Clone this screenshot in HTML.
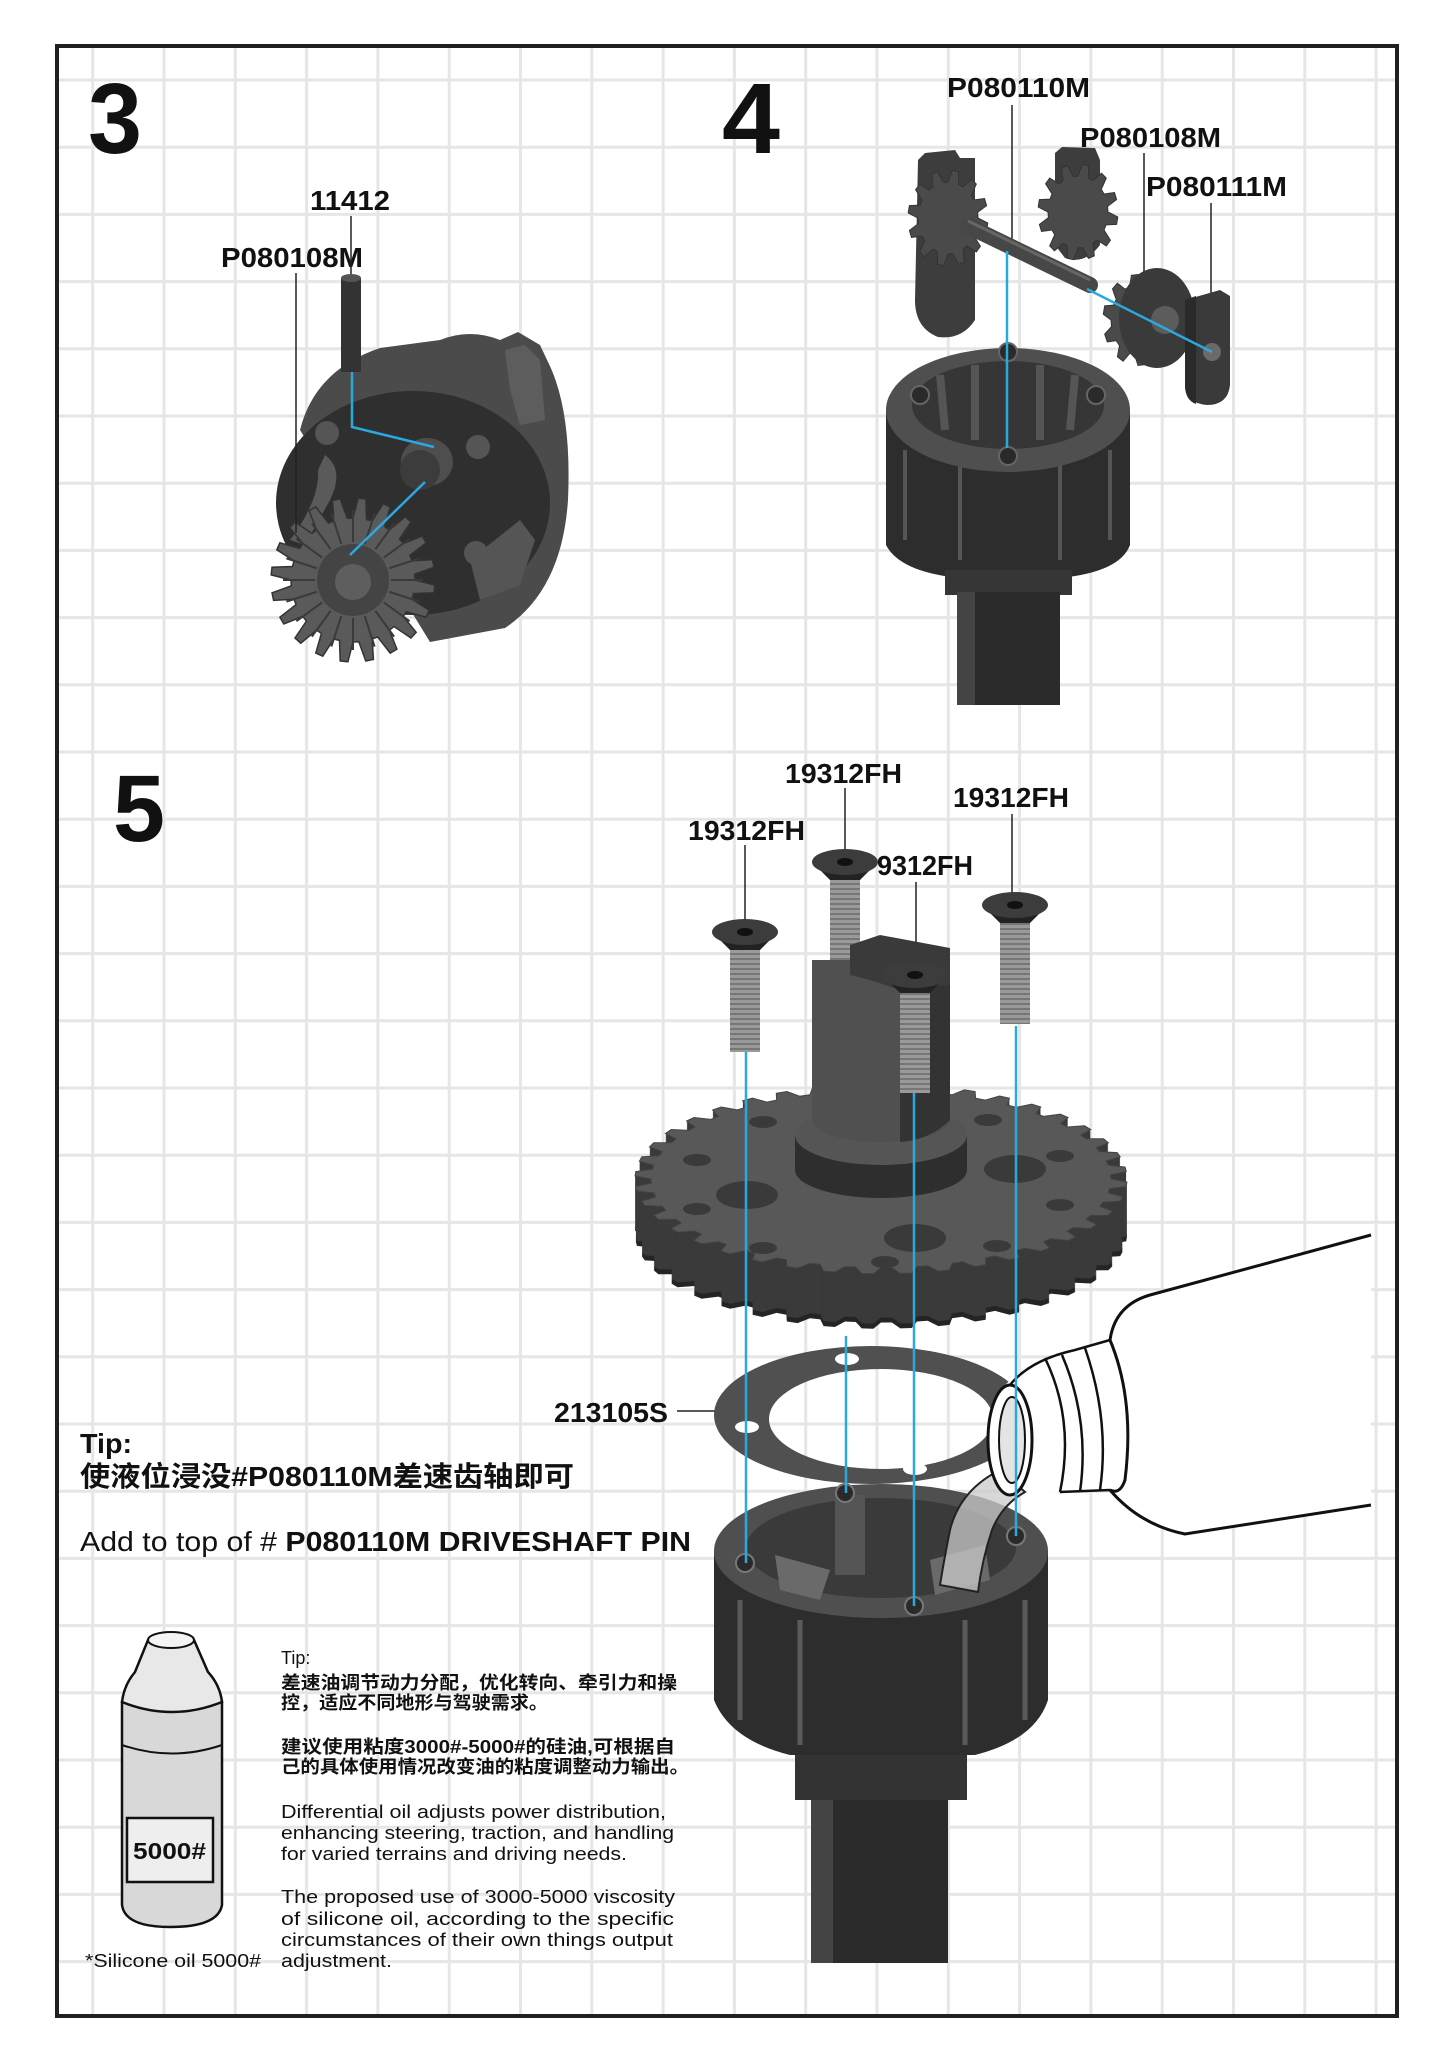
<!DOCTYPE html>
<html><head><meta charset="utf-8"><style>
html,body{margin:0;padding:0;background:#fff}
svg{display:block}
text{font-family:"Liberation Sans","Noto Sans CJK SC",sans-serif;fill:#111}
.lb{font-weight:bold;font-size:28px}
.p{font-size:18px}
.pc{font-size:18px;font-weight:bold}
</style></head><body>
<svg id="s" width="1455" height="2048" viewBox="0 0 1455 2048" xmlns="http://www.w3.org/2000/svg">
<defs>
<pattern id="thr" width="10" height="5" patternUnits="userSpaceOnUse"><rect width="10" height="5" fill="#9a9a9a"/><line x1="0" y1="4" x2="10" y2="4" stroke="#6a6a6a" stroke-width="1.5"/></pattern>
</defs>
<rect width="1455" height="2048" fill="#fff"/>
<path stroke="#e6e6e6" stroke-width="3" fill="none" d="M92.7 48V2014M164 48V2014M235.3 48V2014M306.6 48V2014M377.9 48V2014M449.2 48V2014M520.5 48V2014M591.8 48V2014M663.1 48V2014M734.4 48V2014M805.7 48V2014M877 48V2014M948.3 48V2014M1019.6 48V2014M1090.9 48V2014M1162.2 48V2014M1233.5 48V2014M1304.8 48V2014M1376.1 48V2014
M59 80H1395M59 147.2H1395M59 214.4H1395M59 281.6H1395M59 348.8H1395M59 416H1395M59 483.2H1395M59 550.4H1395M59 617.6H1395M59 684.8H1395M59 752H1395M59 819.2H1395M59 886.4H1395M59 953.6H1395M59 1020.8H1395M59 1088H1395M59 1155.2H1395M59 1222.4H1395M59 1289.6H1395M59 1356.8H1395M59 1424H1395M59 1491.2H1395M59 1558.4H1395M59 1625.6H1395M59 1692.8H1395M59 1760H1395M59 1827.2H1395M59 1894.4H1395M59 1961.6H1395"/>
<rect x="57" y="46" width="1340" height="1970" fill="none" stroke="#231f20" stroke-width="4"/>

<text x="88" y="153" style="font-size:100px;font-weight:bold" textLength="54" lengthAdjust="spacingAndGlyphs">3</text>
<text x="722" y="153" style="font-size:100px;font-weight:bold" textLength="58" lengthAdjust="spacingAndGlyphs">4</text>
<text x="113" y="841" style="font-size:95px;font-weight:bold" textLength="52" lengthAdjust="spacingAndGlyphs">5</text>

<!-- STEP 3 -->
<text class="lb" x="310" y="210" textLength="80" lengthAdjust="spacingAndGlyphs">11412</text>
<text class="lb" x="221" y="267" textLength="142" lengthAdjust="spacingAndGlyphs">P080108M</text>
<line x1="351" y1="216" x2="351" y2="276" stroke="#222" stroke-width="1.5"/>
<path d="M300 430 Q315 370 380 348 L440 340 Q470 328 500 340 L518 332 L540 345 L548 362 Q572 410 568 500 Q562 590 505 628 L430 642 Z" fill="#4b4b4b"/>
<path d="M505 350 L525 345 L540 360 L545 420 L520 425 L510 390 Z" fill="#5d5d5d"/>
<ellipse cx="413" cy="503" rx="137" ry="112" fill="#2f2f2f"/>
<path d="M470 560 L520 520 L535 540 L520 585 L480 600 Z" fill="#555"/>
<circle cx="327" cy="433" r="12" fill="#555"/>
<circle cx="478" cy="447" r="12" fill="#555"/>
<circle cx="476" cy="553" r="12" fill="#555"/>
<ellipse cx="427" cy="462" rx="26" ry="24" fill="#4e4e4e"/>
<ellipse cx="420" cy="470" rx="20" ry="20" fill="#3c3c3c"/>
<path d="M325 455 Q345 470 330 500 L305 545 L290 540 Q320 500 318 470 Z" fill="#5a5a5a"/>
<g id="g3"></g>
<rect x="341" y="278" width="20" height="94" fill="#333"/>
<ellipse cx="351" cy="278" rx="10" ry="4" fill="#555"/>
<line x1="296" y1="273" x2="296" y2="533" stroke="#222" stroke-width="1.5"/>
<polyline points="352,372 352,427 434,447" fill="none" stroke="#29a9e0" stroke-width="2.5"/>
<line x1="425" y1="482" x2="350" y2="555" stroke="#29a9e0" stroke-width="2.5"/>

<!-- STEP 4 -->
<text class="lb" x="947" y="97" textLength="143" lengthAdjust="spacingAndGlyphs">P080110M</text>
<text class="lb" x="1080" y="147" textLength="141" lengthAdjust="spacingAndGlyphs">P080108M</text>
<text class="lb" x="1146" y="196" textLength="141" lengthAdjust="spacingAndGlyphs">P080111M</text>
<line x1="1012" y1="105" x2="1012" y2="251" stroke="#222" stroke-width="1.5"/>
<line x1="1144" y1="153" x2="1144" y2="282" stroke="#222" stroke-width="1.5"/>
<line x1="1211" y1="203" x2="1211" y2="306" stroke="#222" stroke-width="1.5"/>
<path d="M918 160 L925 153 L955 150 L960 158 L975 158 L975 320 Q962 340 938 337 Q915 328 915 300 Z" fill="#3d3d3d"/>
<path d="M1055 153 L1062 147 L1095 148 L1100 160 L1100 245 Q1085 265 1065 258 L1055 245 Z" fill="#3d3d3d"/>
<g id="g4"></g>
<line x1="968" y1="226" x2="1090" y2="285" stroke="#474747" stroke-width="16" stroke-linecap="round"/>
<line x1="968" y1="221" x2="1090" y2="280" stroke="#666" stroke-width="3"/>
<g id="g4b"></g>
<ellipse cx="1157" cy="318" rx="38" ry="50" fill="#3a3a3a"/>
<ellipse cx="1165" cy="320" rx="14" ry="14" fill="#5c5c5c"/>
<path d="M1185 300 L1220 290 L1230 296 L1230 385 Q1228 405 1207 405 Q1185 403 1185 385 Z" fill="#3a3a3a"/>
<path d="M1185 300 L1196 296 L1196 404 Q1185 400 1185 385 Z" fill="#2a2a2a"/>
<circle cx="1212" cy="352" r="9" fill="#6a6a6a"/>
<path d="M886 410 L886 545 Q900 572 960 578 L1060 578 Q1120 572 1130 545 L1130 410 Z" fill="#2d2d2d"/>
<path d="M905 450 L905 540 M1110 450 L1110 540 M960 460 L960 560 M1060 460 L1060 560" stroke="#555" stroke-width="4" fill="none"/>
<ellipse cx="1008" cy="410" rx="122" ry="62" fill="#4f4f4f"/>
<ellipse cx="1008" cy="405" rx="96" ry="44" fill="#363636"/>
<path d="M940 375 L945 430 M975 365 L975 440 M1040 365 L1040 440 M1075 375 L1070 430" stroke="#555" stroke-width="8"/>
<circle cx="1008" cy="352" r="9" fill="#2a2a2a" stroke="#666" stroke-width="2"/>
<circle cx="920" cy="395" r="9" fill="#2a2a2a" stroke="#666" stroke-width="2"/>
<circle cx="1096" cy="395" r="9" fill="#2a2a2a" stroke="#666" stroke-width="2"/>
<circle cx="1008" cy="456" r="9" fill="#2a2a2a" stroke="#666" stroke-width="2"/>
<rect x="945" y="570" width="127" height="25" fill="#363636"/>
<rect x="957" y="592" width="103" height="113" fill="#2b2b2b"/>
<rect x="957" y="592" width="18" height="113" fill="#444"/>
<line x1="1007" y1="251" x2="1007" y2="448" stroke="#29a9e0" stroke-width="2.5"/>
<line x1="1087" y1="289" x2="1212" y2="352" stroke="#29a9e0" stroke-width="2.5"/>

<!-- STEP 5 labels -->
<text class="lb" x="785" y="783" textLength="117" lengthAdjust="spacingAndGlyphs">19312FH</text>
<text class="lb" x="953" y="807" textLength="116" lengthAdjust="spacingAndGlyphs">19312FH</text>
<text class="lb" x="688" y="840" textLength="117" lengthAdjust="spacingAndGlyphs">19312FH</text>
<text class="lb" x="877" y="875" textLength="96" lengthAdjust="spacingAndGlyphs">9312FH</text>
<line x1="745" y1="845" x2="745" y2="920" stroke="#222" stroke-width="1.5"/>
<line x1="845" y1="788" x2="845" y2="852" stroke="#222" stroke-width="1.5"/>
<line x1="916" y1="882" x2="916" y2="962" stroke="#222" stroke-width="1.5"/>
<line x1="1012" y1="814" x2="1012" y2="895" stroke="#222" stroke-width="1.5"/>
<text class="lb" x="554" y="1422" textLength="114" lengthAdjust="spacingAndGlyphs">213105S</text>
<line x1="677" y1="1411" x2="715" y2="1411" stroke="#222" stroke-width="1.5"/>

<rect x="811" y="1790" width="137" height="173" fill="#2b2b2b"/>
<rect x="811" y="1790" width="22" height="173" fill="#444"/>
<rect x="795" y="1740" width="172" height="60" fill="#333"/>
<path d="M714 1551 L714 1700 Q730 1740 790 1755 L975 1755 Q1035 1740 1048 1700 L1048 1551 Z" fill="#2d2d2d"/>
<path d="M740 1600 L740 1720 M1025 1600 L1025 1720 M800 1620 L800 1745 M965 1620 L965 1745" stroke="#5a5a5a" stroke-width="5" fill="none"/>
<ellipse cx="881" cy="1551" rx="167" ry="67" fill="#4f4f4f"/>
<ellipse cx="881" cy="1548" rx="135" ry="50" fill="#3a3a3a"/>
<rect x="835" y="1495" width="30" height="80" fill="#555"/>
<path d="M775 1555 L830 1570 L820 1600 L780 1590 Z M930 1560 L985 1545 L990 1580 L935 1595 Z" fill="#6a6a6a"/>
<circle cx="745" cy="1563" r="9" fill="#2a2a2a" stroke="#777" stroke-width="2"/>
<circle cx="845" cy="1493" r="9" fill="#2a2a2a" stroke="#777" stroke-width="2"/>
<circle cx="914" cy="1606" r="9" fill="#2a2a2a" stroke="#777" stroke-width="2"/>
<circle cx="1016" cy="1536" r="9" fill="#2a2a2a" stroke="#777" stroke-width="2"/>

<path fill-rule="evenodd" fill="#505050" d="M714 1415 A157 69 0 1 0 1028 1415 A157 69 0 1 0 714 1415 Z M769 1419 A112 50 0 1 1 993 1419 A112 50 0 1 1 769 1419 Z"/>
<ellipse cx="747" cy="1427" rx="12" ry="6" fill="#fff"/>
<ellipse cx="847" cy="1359" rx="12" ry="6" fill="#fff"/>
<ellipse cx="915" cy="1469" rx="12" ry="6" fill="#fff"/>
<ellipse cx="1012" cy="1395" rx="12" ry="6" fill="#444"/>

<g id="g5"></g>
<g fill="#3a3a3a">
<ellipse cx="763" cy="1122" rx="14" ry="6"/><ellipse cx="697" cy="1160" rx="14" ry="6"/><ellipse cx="697" cy="1209" rx="14" ry="6"/><ellipse cx="763" cy="1248" rx="14" ry="6"/><ellipse cx="885" cy="1262" rx="14" ry="6"/><ellipse cx="997" cy="1246" rx="14" ry="6"/><ellipse cx="1060" cy="1205" rx="14" ry="6"/><ellipse cx="1060" cy="1156" rx="14" ry="6"/><ellipse cx="988" cy="1120" rx="14" ry="6"/>
<ellipse cx="747" cy="1195" rx="31" ry="14"/><ellipse cx="915" cy="1238" rx="31" ry="14"/><ellipse cx="1015" cy="1169" rx="31" ry="14"/>
</g>
<g id="sc2"></g>
<path d="M795 1135 L795 1170 A86 28 0 0 0 967 1170 L967 1135 Z" fill="#2e2e2e"/>
<ellipse cx="881" cy="1135" rx="86" ry="30" fill="#555"/>
<path d="M812 960 L812 1120 A69 22 0 0 0 950 1120 L950 960 Z" fill="#505050"/>
<path d="M900 960 L950 960 L950 1120 Q930 1140 900 1142 Z" fill="#333"/>
<path d="M850 945 L880 935 L950 948 L950 985 L900 990 L870 980 L850 975 Z" fill="#3a3a3a"/>
<path d="M1371 1235 L1150 1295 Q1115 1305 1110 1340 L1075 1350 Q1030 1360 1005 1385 Q985 1420 995 1470 Q1000 1492 1015 1496 L1060 1492 L1110 1490 Q1140 1525 1185 1534 L1371 1505 Z" fill="#fff"/>
<path d="M1371 1235 L1150 1295 Q1115 1305 1110 1340 M1110 1340 Q1135 1400 1125 1480 Q1120 1495 1110 1490 Q1140 1525 1185 1534 L1371 1505" fill="none" stroke="#111" stroke-width="3"/>
<path d="M1110 1340 L1075 1350 Q1030 1360 1010 1385 M1060 1492 L1110 1490 M1045 1358 Q1075 1420 1060 1492 M1062 1355 Q1090 1420 1080 1492 M1085 1348 Q1110 1420 1100 1490" fill="none" stroke="#111" stroke-width="2.5"/>
<path d="M1000 1470 Q960 1490 950 1530 Q944 1560 940 1585 L978 1592 Q982 1560 992 1530 Q1002 1505 1025 1492 Z" fill="#c9c9c9" fill-opacity="0.75" stroke="#222" stroke-width="2"/>
<ellipse cx="1010" cy="1440" rx="22" ry="55" fill="#fff" stroke="#111" stroke-width="3"/>
<ellipse cx="1012" cy="1440" rx="13" ry="43" fill="#e4e4e4" stroke="#111" stroke-width="2"/>
<g stroke="#29a9e0" stroke-width="2.5">
<line x1="746" y1="1052" x2="746" y2="1563"/>
<line x1="914" y1="1093" x2="914" y2="1606"/>
<line x1="1016" y1="1026" x2="1016" y2="1536"/>
<line x1="846" y1="1336" x2="846" y2="1493"/>
</g>
<g id="sc"></g>

<text x="80" y="1453" style="font-size:28px;font-weight:bold" textLength="52" lengthAdjust="spacingAndGlyphs">Tip:</text>
<text x="80" y="1486" style="font-size:28px;font-weight:bold" textLength="494" lengthAdjust="spacingAndGlyphs">使液位浸没#P080110M差速齿轴即可</text>
<text x="80" y="1551" style="font-size:28px" textLength="611" lengthAdjust="spacingAndGlyphs">Add to top of # <tspan font-weight="bold">P080110M DRIVESHAFT PIN</tspan></text>

<path d="M122 1702 L122 1905 Q125 1927 170 1927 Q218 1927 222 1905 L222 1702 Z" fill="#d8d8d8" stroke="#111" stroke-width="2.5"/>
<path d="M122 1702 Q124 1685 135 1672 L148 1640 Q170 1630 194 1640 L208 1672 Q220 1685 222 1702 Q172 1722 122 1702 Z" fill="#e8e8e8" stroke="#111" stroke-width="2.5"/>
<ellipse cx="171" cy="1640" rx="23" ry="8" fill="#f4f4f4" stroke="#111" stroke-width="2"/>
<path d="M122 1745 Q172 1762 222 1745" fill="none" stroke="#111" stroke-width="2"/>
<rect x="127" y="1818" width="86" height="64" fill="#eee" stroke="#111" stroke-width="2.5"/>
<text x="133" y="1859" style="font-size:23px;font-weight:bold" textLength="73" lengthAdjust="spacingAndGlyphs">5000#</text>
<text x="85" y="1967" class="p" textLength="176" lengthAdjust="spacingAndGlyphs">*Silicone oil 5000#</text>

<text x="281" y="1664" class="p">Tip:</text>
<text x="281" y="1689" class="pc" textLength="396" lengthAdjust="spacingAndGlyphs">差速油调节动力分配，优化转向、牵引力和操</text>
<text x="281" y="1709" class="pc" textLength="267" lengthAdjust="spacingAndGlyphs">控，适应不同地形与驾驶需求。</text>
<text x="281" y="1753" class="pc" textLength="394" lengthAdjust="spacingAndGlyphs">建议使用粘度3000#-5000#的硅油,可根据自</text>
<text x="281" y="1773" class="pc" textLength="408" lengthAdjust="spacingAndGlyphs">己的具体使用情况改变油的粘度调整动力输出。</text>
<text x="281" y="1818" class="p" textLength="385" lengthAdjust="spacingAndGlyphs">Differential oil adjusts power distribution,</text>
<text x="281" y="1839" class="p" textLength="393" lengthAdjust="spacingAndGlyphs">enhancing steering, traction, and handling</text>
<text x="281" y="1860" class="p" textLength="346" lengthAdjust="spacingAndGlyphs">for varied terrains and driving needs.</text>
<text x="281" y="1903" class="p" textLength="394" lengthAdjust="spacingAndGlyphs">The proposed use of 3000-5000 viscosity</text>
<text x="281" y="1925" class="p" textLength="393" lengthAdjust="spacingAndGlyphs">of silicone oil, according to the specific</text>
<text x="281" y="1946" class="p" textLength="392" lengthAdjust="spacingAndGlyphs">circumstances of their own things output</text>
<text x="281" y="1967" class="p" textLength="111" lengthAdjust="spacingAndGlyphs">adjustment.</text>
</svg>
<script>
var NS="http://www.w3.org/2000/svg";
function el(p,t,a){var e=document.createElementNS(NS,t);for(var k in a)e.setAttribute(k,a[k]);document.getElementById(p).appendChild(e);return e;}
function gear(cx,cy,rr,rt,ryr,n){var s="";var st=2*Math.PI/n;for(var i=0;i<n;i++){var a=i*st;var A=[[a,rr],[a+0.2*st,rt],[a+0.5*st,rt],[a+0.7*st,rr]];A.forEach(function(q,j){var x=cx+q[1]*Math.cos(q[0]),y=cy+q[1]*ryr*Math.sin(q[0]);s+=(i==0&&j==0?"M":"L")+x.toFixed(1)+" "+y.toFixed(1);});}return s+"Z";}
el("g3","path",{d:gear(353,580,62,82,1,20),fill:"#5a5a5a",stroke:"#333","stroke-width":"1.5"});
for(var i=0;i<20;i++){var a=i*Math.PI/10;el("g3","line",{x1:353+38*Math.cos(a),y1:580+38*Math.sin(a),x2:353+70*Math.cos(a),y2:580+70*Math.sin(a),stroke:"#3a3a3a","stroke-width":"2"});}
el("g3","circle",{cx:353,cy:580,r:36,fill:"#444"});
el("g3","circle",{cx:353,cy:582,r:18,fill:"#5e5e5e"});
el("g4","path",{d:gear(948,218,30,40,1.2,12),fill:"#4a4a4a",stroke:"#333"});
el("g4","path",{d:gear(1078,212,30,40,1.2,12),fill:"#4a4a4a",stroke:"#333"});
el("g4b","path",{d:gear(1138,320,27,35,1.3,10),fill:"#4a4a4a",stroke:"#333"});
for(var d=55;d>=1;d-=1){el("g5","path",{d:gear(881,1179+d,230,246,0.385,40),fill:d>50?"#252525":"#3a3a3a"});}
el("g5","path",{d:gear(881,1179,230,246,0.385,40),fill:"#585858",stroke:"#444","stroke-width":"1"});
function screw(g,cx,cy,end){
 el(g,"rect",{x:cx-15,y:cy+16,width:30,height:end-cy-16,fill:"url(#thr)"});
 el(g,"path",{d:"M"+(cx-33)+" "+cy+" L"+(cx+33)+" "+cy+" L"+(cx+15)+" "+(cy+18)+" L"+(cx-15)+" "+(cy+18)+"Z",fill:"#222"});
 el(g,"ellipse",{cx:cx,cy:cy,rx:33,ry:13,fill:"#3c3c3c"});
 el(g,"ellipse",{cx:cx,cy:cy,rx:8,ry:4,fill:"#111"});
}
screw("sc2",845,862,960);
screw("sc",745,932,1052);
screw("sc",915,975,1093);
screw("sc",1015,905,1024);
</script>
</body></html>
